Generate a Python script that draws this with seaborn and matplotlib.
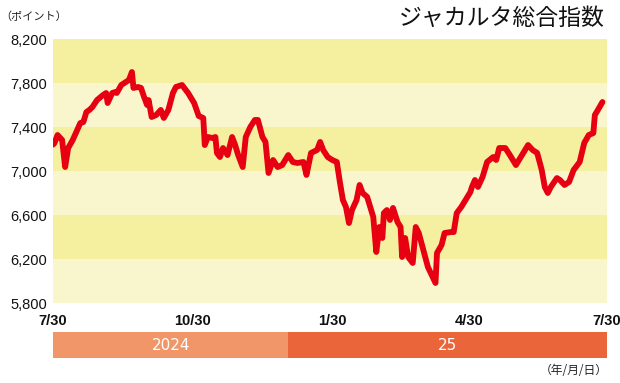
import matplotlib
matplotlib.use("Agg")
import matplotlib.pyplot as plt
import matplotlib.dates as mdates
import seaborn as sns
import pandas as pd

# ---- data ----
dates = [
    "2024-07-30", "2024-07-31", "2024-08-02", "2024-08-05", "2024-08-07", "2024-08-09",
    "2024-08-12", "2024-08-15", "2024-08-17", "2024-08-19", "2024-08-21", "2024-08-23",
    "2024-08-25", "2024-08-28", "2024-09-01", "2024-09-03", "2024-09-04", "2024-09-07",
    "2024-09-09", "2024-09-10", "2024-09-13", "2024-09-16", "2024-09-18", "2024-09-20",
    "2024-09-21", "2024-09-24", "2024-09-26", "2024-09-28", "2024-09-30", "2024-10-01",
    "2024-10-03", "2024-10-06", "2024-10-09", "2024-10-11", "2024-10-14", "2024-10-17",
    "2024-10-19", "2024-10-23", "2024-10-27", "2024-10-31", "2024-11-03", "2024-11-06",
    "2024-11-07", "2024-11-09", "2024-11-12", "2024-11-14", "2024-11-15", "2024-11-17",
    "2024-11-19", "2024-11-22", "2024-11-25", "2024-11-27", "2024-11-29", "2024-12-02",
    "2024-12-04", "2024-12-07", "2024-12-10", "2024-12-12", "2024-12-15", "2024-12-17",
    "2024-12-19", "2024-12-22", "2024-12-25", "2024-12-28", "2025-01-01", "2025-01-04",
    "2025-01-07", "2025-01-11", "2025-01-13", "2025-01-16", "2025-01-20", "2025-01-22",
    "2025-01-24", "2025-01-27", "2025-01-30", "2025-02-02", "2025-02-04", "2025-02-06",
    "2025-02-08", "2025-02-10", "2025-02-12", "2025-02-15", "2025-02-17", "2025-02-19",
    "2025-02-22", "2025-02-26", "2025-02-28", "2025-03-02", "2025-03-04", "2025-03-05",
    "2025-03-07", "2025-03-09", "2025-03-11", "2025-03-14", "2025-03-16", "2025-03-17",
    "2025-03-19", "2025-03-21", "2025-03-24", "2025-03-26", "2025-03-28", "2025-03-31",
    "2025-04-03", "2025-04-08", "2025-04-09", "2025-04-12", "2025-04-14", "2025-04-18",
    "2025-04-20", "2025-04-22", "2025-04-25", "2025-04-29", "2025-05-01", "2025-05-02",
    "2025-05-04", "2025-05-06", "2025-05-09", "2025-05-12", "2025-05-16", "2025-05-18",
    "2025-05-20", "2025-05-24", "2025-05-27", "2025-05-31", "2025-06-04", "2025-06-08",
    "2025-06-11", "2025-06-14", "2025-06-17", "2025-06-19", "2025-06-21", "2025-06-23",
    "2025-06-27", "2025-06-29", "2025-07-02", "2025-07-05", "2025-07-08", "2025-07-12",
    "2025-07-15", "2025-07-18", "2025-07-21", "2025-07-22", "2025-07-24", "2025-07-27",
]
index_values = [
    7240, 7255, 7327, 7282, 7036, 7209,
    7282, 7373, 7436, 7445, 7536, 7555,
    7582, 7645, 7691, 7709, 7618, 7709,
    7718, 7709, 7782, 7809, 7827, 7900,
    7755, 7764, 7755, 7673, 7600, 7645,
    7491, 7509, 7555, 7482, 7555, 7709,
    7764, 7782, 7709, 7618, 7500, 7482,
    7236, 7309, 7300, 7309, 7164, 7127,
    7209, 7145, 7309, 7236, 7145, 7036,
    7309, 7400, 7464, 7464, 7309, 7264,
    6982, 7100, 7036, 7054, 7145, 7082,
    7073, 7082, 6964, 7164, 7191, 7264,
    7191, 7127, 7100, 7082, 6900, 6736,
    6673, 6527, 6645, 6736, 6873, 6800,
    6764, 6582, 6264, 6491, 6391, 6618,
    6645, 6555, 6664, 6536, 6491, 6218,
    6391, 6218, 6164, 6491, 6436, 6282,
    6127, 5982, 6255, 6327, 6436, 6445,
    6445, 6618, 6673, 6764, 6809, 6855,
    6918, 6855, 6945, 7082, 7127, 7100,
    7209, 7209, 7145, 7054, 7145, 7236,
    7191, 7164, 7009, 6855, 6800, 6855,
    6936, 6918, 6873, 6900, 7009, 7082,
    7255, 7327, 7345, 7509, 7555, 7627,
]

y_ticks = [5800, 6200, 6600, 7000, 7400, 7800, 8200]
y_tick_labels = ["5,800", "6,200", "6,600", "7,000", "7,400", "7,800", "8,200"]
x_tick_dates = ["2024-07-30", "2024-10-30", "2025-01-30", "2025-04-30", "2025-07-30"]
x_tick_labels = ["7/30", "10/30", "1/30", "4/30", "7/30"]

year_labels = ["2024", "25"]
year_starts = ["2024-07-30", "2025-01-01"]
year_ends = ["2025-01-01", "2025-07-30"]
year_colors = ["#f19669", "#ea6539"]

band_colors = ["#f9f6cd", "#f4f0a0"]  # lighter (bottom), darker alternating
line_color = "#e60012"

# ---- figure ----
sns.set_theme(style="white")
plt.rcParams["font.family"] = ["Liberation Sans", "Noto Sans CJK JP", "DejaVu Sans"]

W, H = 620, 383
fig = plt.figure(figsize=(W / 100, H / 100), dpi=100)
L, R = 53, 607
ax = fig.add_axes([L / W, 1 - 303 / H, (R - L) / W, (303 - 39) / H])
ax2 = fig.add_axes([L / W, 1 - 358 / H, (R - L) / W, (358 - 332) / H])

df = pd.DataFrame({"date": pd.to_datetime(dates), "value": index_values})
xt = pd.to_datetime(x_tick_dates)

# horizontal bands
for i in range(len(y_ticks) - 1):
    ax.axhspan(y_ticks[i], y_ticks[i + 1], color=band_colors[i % 2], lw=0, zorder=0)

sns.lineplot(data=df, x="date", y="value", ax=ax, color=line_color, linewidth=4.2,
             solid_joinstyle="round", solid_capstyle="round", zorder=3)

ax.set_xlim(xt[0], xt[-1])
ax.set_ylim(y_ticks[0], y_ticks[-1])
ax.set_yticks(y_ticks)
ax.set_yticklabels(y_tick_labels, fontsize=10.5)
ax.set_xticks(xt)
ax.set_xticklabels(x_tick_labels, fontsize=10.5, fontweight="bold")
ax.set_xlabel("")
ax.set_ylabel("")
for s in ax.spines.values():
    s.set_visible(False)
ax.tick_params(axis="y", length=0, pad=4, colors="#111111")
ax.tick_params(axis="x", direction="in", length=5, width=0.8, color="#888888",
               pad=8, labelcolor="#111111")
ax.grid(False)

# year bar
for lab, s, e, c in zip(year_labels, year_starts, year_ends, year_colors):
    s_n = mdates.date2num(pd.Timestamp(s))
    e_n = mdates.date2num(pd.Timestamp(e))
    ax2.barh(0, e_n - s_n, left=s_n, height=1, color=c, lw=0)
    ax2.text((s_n + e_n) / 2, 0, lab, ha="center", va="center", color="white",
             fontsize=11, fontfamily=["Liberation Sans Narrow", "DejaVu Sans"])
ax2.set_xlim(mdates.date2num(xt[0]), mdates.date2num(xt[-1]))
ax2.set_ylim(-0.5, 0.5)
ax2.axis("off")

# texts
fig.text(605 / W, 1 - 18 / H, "ジャカルタ総合指数", ha="right", va="center",
         fontsize=16.5, family=["Noto Sans CJK JP", "DejaVu Sans"], color="#111111")
fig.text(0 / W, 1 - 17 / H, "（ポイント）", ha="left", va="center",
         fontsize=8, family=["Noto Sans CJK JP", "DejaVu Sans"], color="#222222")
fig.text(608 / W, 1 - 371 / H, "（年/月/日）", ha="right", va="center",
         fontsize=8.5, family=["Noto Sans CJK JP", "DejaVu Sans"], color="#222222")

fig.savefig("out.png", dpi=100, facecolor="white")
